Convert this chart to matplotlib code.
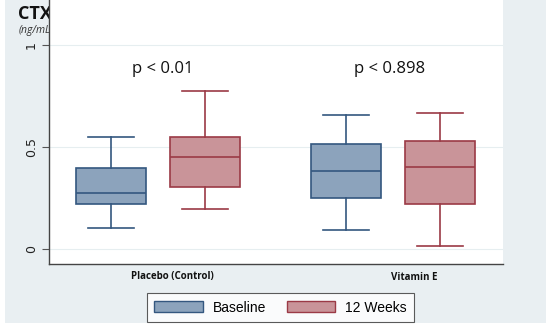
import matplotlib
matplotlib.use("Agg")
import matplotlib.pyplot as plt
from matplotlib.patches import Rectangle, Patch

groups = ["Placebo (Control)", "Vitamin E"]
series = ["Baseline", "12 Weeks"]
# [whislo, q1, median, q3, whishi]
baseline_stats = [[0.101, 0.219, 0.276, 0.398, 0.550],
                  [0.095, 0.248, 0.382, 0.515, 0.658]]
week12_stats = [[0.196, 0.304, 0.449, 0.549, 0.775],
                [0.013, 0.222, 0.399, 0.529, 0.665]]
p_labels = ["p < 0.01", "p < 0.898"]
y_ticks = [0, 0.5, 1]
y_ticklabels = ["0", "0.5", "1"]

fill_cols = ["#8ca3bc", "#c99499"]
edge_cols = ["#34577f", "#9b3a46"]

fig = plt.figure(figsize=(5.5, 3.28), dpi=100)
fig.patch.set_facecolor("white")
fig.add_artist(Rectangle((5/550, 5/328), 541/550, 323/328, transform=fig.transFigure,
                         facecolor="#e9eff2", edgecolor="none", zorder=-5))

ax = fig.add_axes([49/550, 1 - 264/328, 454/550, 264/328])
ax.set_zorder(1)
ax.set_facecolor("white")

positions = [[1.0, 3.5], [2.0, 4.5]]
width = 0.745
for si, stats_list in enumerate([baseline_stats, week12_stats]):
    bxp = []
    for s in stats_list:
        bxp.append(dict(whislo=s[0], q1=s[1], med=s[2], q3=s[3], whishi=s[4], fliers=[]))
    ax.bxp(bxp, positions=positions[si], widths=width, patch_artist=True,
           showfliers=False, manage_ticks=False,
           boxprops=dict(facecolor=fill_cols[si], edgecolor=edge_cols[si], linewidth=1.2),
           medianprops=dict(color=edge_cols[si], linewidth=1.2),
           whiskerprops=dict(color=edge_cols[si], linewidth=1.2),
           capprops=dict(color=edge_cols[si], linewidth=1.2),
           capwidths=width * 0.67)

ax.set_xlim(0.34, 5.17)
ax.set_ylim(-0.074, 1.22)
ax.set_yticks(y_ticks)
ax.set_yticklabels(y_ticklabels, rotation=90, va="center", fontsize=9, color="#222222")
ax.tick_params(axis="y", length=5, color="#555555", pad=3)
ax.set_xticks([])
ax.grid(axis="y", color="#e6eef0", linewidth=0.8)
ax.set_axisbelow(True)
for s in ["top", "right"]:
    ax.spines[s].set_visible(False)
for s in ["left", "bottom"]:
    ax.spines[s].set_color("#444444")
    ax.spines[s].set_linewidth(1.0)

# p-value annotations
p_x = [1.553, 3.968]
for px, lab in zip(p_x, p_labels):
    ax.text(px, 0.882, lab, ha="center", va="center", fontsize=12,
            family="Open Sans", color="#111111")

# group labels below axis
grp_x = [172.5/550, 414/550]
for gx, g in zip(grp_x, groups):
    fig.text(gx, 1 - 277/328, g, ha="center", va="center", fontsize=7,
             fontweight="bold", family="Open Sans", color="#111111")

# title pieces (partly hidden behind plot area)
fig.text(18/550, 1 - 14/328, "CTX", ha="left", va="center", fontsize=13,
         fontweight="bold", family="Open Sans", color="#111111", zorder=-1)
fig.text(19/550, 1 - 31/328, "(ng/mL)", ha="left", va="center", fontsize=7.5,
         style="italic", family="Open Sans", color="#333333", zorder=-1)

handles = [Patch(facecolor=fill_cols[i], edgecolor=edge_cols[i], linewidth=1.0, label=series[i])
           for i in range(2)]
leg = fig.legend(handles=handles, loc="center", bbox_to_anchor=(280.5/550, 1 - 307.5/328),
                 ncol=2, frameon=True, handlelength=3.5, handleheight=0.9,
                 columnspacing=1.5, handletextpad=0.7, borderpad=0.55, borderaxespad=0,
                 prop=dict(family="Liberation Sans", size=10), fancybox=False)
leg.get_frame().set_edgecolor("#333333")
leg.get_frame().set_linewidth(0.8)

fig.savefig("out.png", dpi=100)
